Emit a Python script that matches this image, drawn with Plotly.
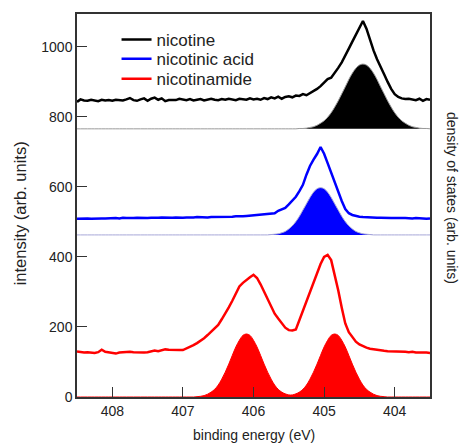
import plotly.graph_objects as go

# binding energy grid (eV), shared by spectra and DOS curves
ENERGY = [
    408.50, 408.45, 408.40, 408.35, 408.30, 408.25, 408.20, 408.15, 408.10, 408.05,
    408.00, 407.95, 407.90, 407.85, 407.80, 407.75, 407.70, 407.65, 407.60, 407.55,
    407.50, 407.45, 407.40, 407.35, 407.30, 407.25, 407.20, 407.15, 407.10, 407.05,
    407.00, 406.95, 406.90, 406.85, 406.80, 406.75, 406.70, 406.65, 406.60, 406.55,
    406.50, 406.45, 406.40, 406.35, 406.30, 406.25, 406.20, 406.15, 406.10, 406.05,
    406.00, 405.95, 405.90, 405.85, 405.80, 405.75, 405.70, 405.65, 405.60, 405.55,
    405.50, 405.45, 405.40, 405.35, 405.30, 405.25, 405.20, 405.15, 405.10, 405.05,
    405.00, 404.95, 404.90, 404.85, 404.80, 404.75, 404.70, 404.65, 404.60, 404.55,
    404.50, 404.45, 404.40, 404.35, 404.30, 404.25, 404.20, 404.15, 404.10, 404.05,
    404.00, 403.95, 403.90, 403.85, 403.80, 403.75, 403.70, 403.65, 403.60, 403.55,
    403.50,
]

# measured spectra (arb. units, already stacked)
NICOTINE = [
    843, 850, 847, 846, 849, 847, 845, 849, 847, 848,
    846, 849, 848, 847, 850, 854, 848, 846, 850, 853,
    846, 852, 855, 849, 853, 845, 848, 849, 848, 852,
    850, 848, 851, 847, 849, 851, 847, 850, 852, 849,
    848, 851, 849, 852, 850, 848, 852, 851, 849, 853,
    850, 852, 849, 854, 851, 856, 853, 858, 852, 857,
    859, 856, 861, 860, 865, 862, 868, 873, 880, 888,
    897, 908, 912, 925, 940, 956, 974, 995, 1015, 1035,
    1055, 1074, 1052, 1020, 990, 965, 945, 922, 900, 880,
    865, 857, 853, 851, 852, 850, 848, 852, 846, 851,
    849,
]
NICOTINIC_ACID = [
    509, 510, 511, 510, 509, 510, 511, 510, 510, 511,
    510, 511, 510, 512, 511, 510, 511, 512, 511, 510,
    511, 512, 511, 512, 513, 512, 511, 512, 513, 512,
    512, 513, 512, 513, 514, 513, 512, 513, 514, 514,
    513, 514, 515, 514, 515, 516, 515, 516, 517, 518,
    517, 518, 519, 520, 521, 522, 525, 532, 536, 540,
    550, 562, 572, 588, 606, 635, 660, 678, 694, 714,
    695, 668, 640, 612, 585, 560, 537, 525, 520, 517,
    515, 514, 513, 513, 512, 512, 512, 511, 512, 511,
    511, 510, 511, 511, 510, 510, 511, 510, 510, 509,
    510,
]
NICOTINAMIDE = [
    130, 128, 127, 128, 127, 126, 128, 135, 129, 127,
    125, 124, 127, 128, 127, 129, 128, 127, 128, 127,
    128, 130, 133, 131, 134, 136, 135, 134, 133, 134,
    134, 138, 143, 148, 154, 160, 168, 177, 186, 195,
    206, 222, 238, 256, 275, 296, 316, 326, 335, 342,
    349, 340, 322, 300, 278, 256, 238, 224, 212, 198,
    191, 190, 193, 220, 245, 270, 295, 322, 350, 380,
    400, 406, 391, 350, 305, 255, 210, 185, 172, 158,
    150, 145, 141, 138, 136, 134, 133, 132, 131, 131,
    130, 129, 130, 129, 128, 129, 127, 128, 127, 127,
    126,
]

# calculated density of states (height above each panel's baseline)
DOS_NICOTINE = [
    0, 0, 0, 0, 0, 0, 0, 0, 0, 0,
    0, 0, 0, 0, 0, 0, 0, 0, 0, 0,
    0, 0, 0, 0, 0, 0, 0, 0, 0, 0,
    0, 0, 0, 0, 0, 0, 0, 0, 0, 0,
    0, 0, 0, 0, 0, 0, 0, 0, 0, 0,
    0, 0, 0, 0, 0, 0, 0, 0, 0, 0,
    0, 0, 0, 1, 1, 2, 4, 6, 10, 16,
    23, 33, 46, 62, 80, 100, 120, 141, 159, 173,
    182, 185, 182, 173, 159, 141, 120, 100, 80, 62,
    46, 33, 23, 16, 10, 6, 4, 2, 1, 1,
    0,
]
DOS_NICOTINIC_ACID = [
    0, 0, 0, 0, 0, 0, 0, 0, 0, 0,
    0, 0, 0, 0, 0, 0, 0, 0, 0, 0,
    0, 0, 0, 0, 0, 0, 0, 0, 0, 0,
    0, 0, 0, 0, 0, 0, 0, 0, 0, 0,
    0, 0, 0, 0, 0, 0, 0, 0, 0, 0,
    0, 0, 0, 0, 0, 1, 2, 3, 6, 10,
    17, 26, 38, 53, 71, 89, 107, 122, 132, 135,
    132, 122, 107, 89, 71, 53, 38, 26, 17, 10,
    6, 3, 2, 1, 0, 0, 0, 0, 0, 0,
    0, 0, 0, 0, 0, 0, 0, 0, 0, 0,
    0,
]
DOS_NICOTINAMIDE = [
    0, 0, 0, 0, 0, 0, 0, 0, 0, 0,
    0, 0, 0, 0, 0, 0, 0, 0, 0, 0,
    0, 0, 0, 0, 0, 0, 0, 0, 0, 0,
    0, 0, 0, 0, 1, 2, 4, 8, 14, 22,
    34, 51, 71, 94, 119, 143, 162, 176, 180, 176,
    162, 143, 119, 94, 71, 51, 34, 22, 14, 9,
    6, 6, 9, 14, 22, 34, 51, 71, 94, 119,
    143, 162, 176, 180, 176, 162, 143, 119, 94, 71,
    51, 34, 22, 14, 8, 4, 2, 1, 0, 0,
    0, 0, 0, 0, 0, 0, 0, 0, 0, 0,
    0,
]

NAMES = ["nicotine", "nicotinic acid", "nicotinamide"]
SPECTRA = [NICOTINE, NICOTINIC_ACID, NICOTINAMIDE]
DOS = [DOS_NICOTINE, DOS_NICOTINIC_ACID, DOS_NICOTINAMIDE]
DOS_OFFSETS = [766, 463, 0]
COLORS = ["#000000", "#0000ff", "#ff0000"]
BASE_COLORS = ["#9a9a9a", "#a8a8d8", "#ff0000"]
LEGENDS = ["legend", "legend2", "legend3"]
LEGEND_Y = [0.932, 0.882, 0.830]

FONT = "Arial, Liberation Sans, sans-serif"

fig = go.Figure()

# filled DOS curves sitting on their panel baselines
for dos, off, col, bcol in zip(DOS, DOS_OFFSETS, COLORS, BASE_COLORS):
    fig.add_trace(go.Scatter(
        x=ENERGY,
        y=[off + v for v in dos],
        mode="lines",
        line=dict(color=bcol, width=1, shape="spline"),
        fill="toself",
        fillcolor=col,
        showlegend=False,
        hoverinfo="skip",
    ))

for name, spec, col, leg in zip(NAMES, SPECTRA, COLORS, LEGENDS):
    fig.add_trace(go.Scatter(
        x=ENERGY,
        y=spec,
        mode="lines",
        name=name,
        legend=leg,
        line=dict(color=col, width=2.5),
    ))

axis_common = dict(
    showgrid=False,
    zeroline=False,
    showline=True,
    mirror=True,
    linecolor="#333333",
    linewidth=1.5,
    ticks="inside",
    ticklen=10,
    tickwidth=1.2,
    tickcolor="#333333",
    tickfont=dict(family=FONT, size=14, color="#222222"),
)

fig.update_xaxes(range=[408.5, 403.5], tickvals=[408, 407, 406, 405, 404], **axis_common)
fig.update_yaxes(range=[0, 1094], tickvals=[0, 200, 400, 600, 800, 1000], **axis_common)

fig.add_annotation(text="intensity (arb. units)", xref="paper", yref="paper",
                   x=-0.161, y=0.48, xanchor="center", yanchor="middle",
                   textangle=-90, showarrow=False,
                   font=dict(family=FONT, size=16.5, color="#222222"))
fig.add_annotation(text="density of states (arb. units)", xref="paper", yref="paper",
                   x=1.062, y=0.52, xanchor="center", yanchor="middle",
                   textangle=90, showarrow=False,
                   font=dict(family=FONT, size=14, color="#222222"))
fig.add_annotation(text="binding energy (eV)", xref="paper", yref="paper",
                   x=0.5, y=-0.100, xanchor="center", yanchor="middle",
                   showarrow=False,
                   font=dict(family=FONT, size=14, color="#222222"))

legend_style = dict(
    x=0.112, xanchor="left", yanchor="middle",
    bgcolor="rgba(0,0,0,0)",
    font=dict(family=FONT, size=17, color="#222222"),
)

fig.update_layout(
    width=459,
    height=444,
    margin=dict(l=77, r=29, t=14, b=47),
    paper_bgcolor="white",
    plot_bgcolor="white",
    legend=dict(y=LEGEND_Y[0], **legend_style),
    legend2=dict(y=LEGEND_Y[1], **legend_style),
    legend3=dict(y=LEGEND_Y[2], **legend_style),
)

# drop the default page margin so the figure fills the window exactly
fig.write_html(
    "out.html",
    config={"displayModeBar": False},
    post_script="document.body.style.margin='0';document.body.style.overflow='hidden';",
)
